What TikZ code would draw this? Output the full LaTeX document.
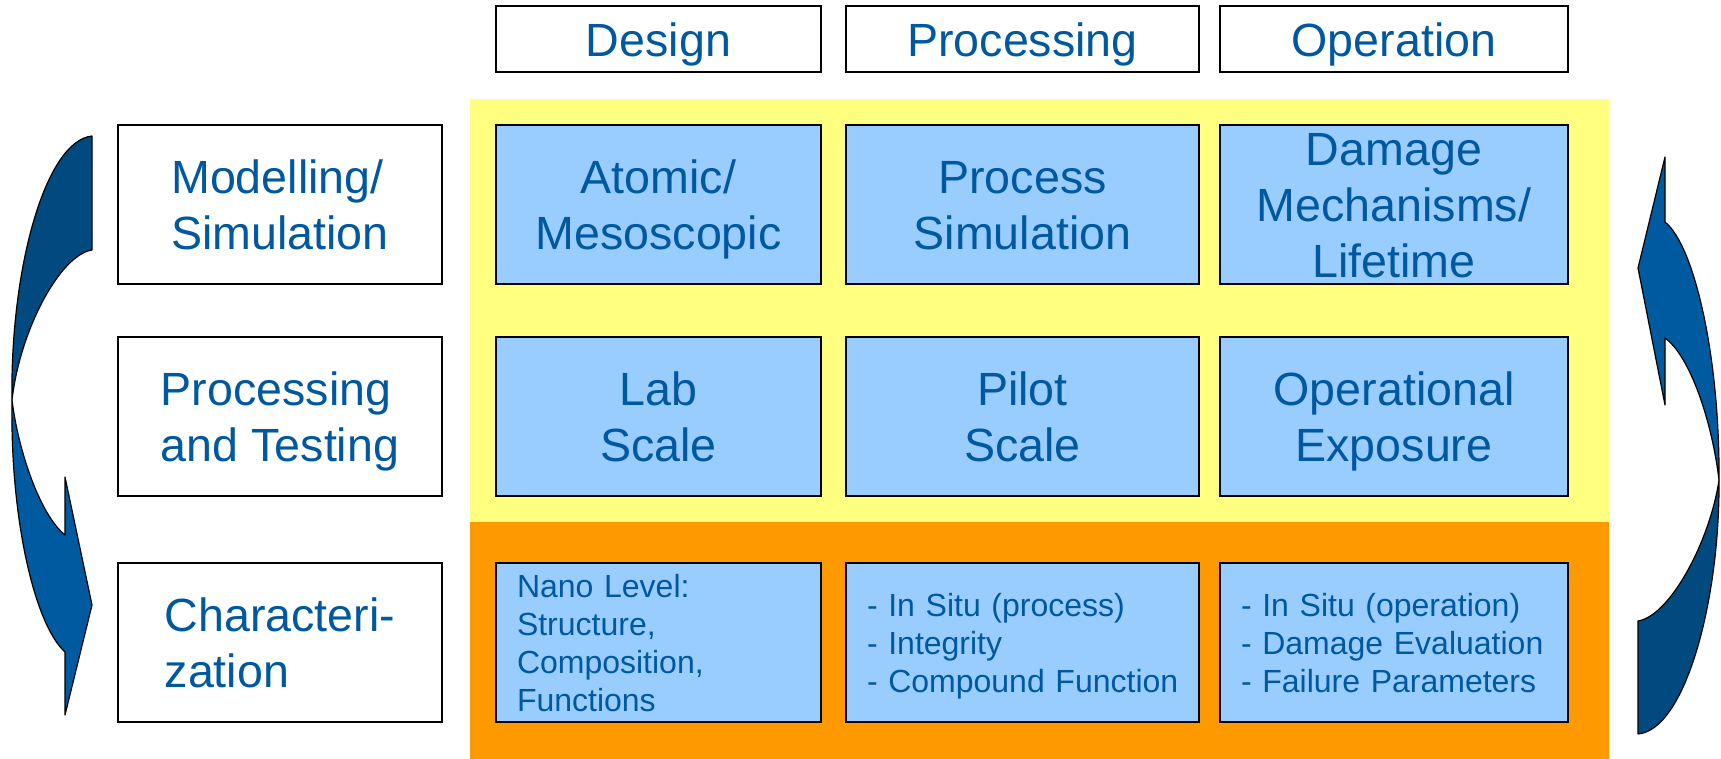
\documentclass[tikz,border=0pt]{standalone}
\usepackage{fontspec}
\setmainfont{Liberation Sans}
\definecolor{txtblue}{RGB}{0,88,160}
\definecolor{cellblue}{RGB}{153,204,255}
\definecolor{bandyellow}{RGB}{255,255,128}
\definecolor{bandorange}{RGB}{255,153,0}
\definecolor{arrdark}{RGB}{0,74,127}
\definecolor{arrlight}{RGB}{0,90,160}
\newcommand\vstr{\rule[-0.225em]{0pt}{1.185em}}
\begin{document}
\begin{tikzpicture}[x=0.5pt,y=-0.5pt,
  bigtxt/.style={font=\fontsize{23.3}{28}\selectfont, text=txtblue},
  smalltxt/.style={font=\fontsize{16}{19}\selectfont, text=txtblue},
  frame/.style={draw=black, line width=0.9pt, inner sep=0pt},
  hbox/.style={frame, fill=white, bigtxt, minimum height=33pt},
  lbox/.style={frame, fill=white, bigtxt, align=left, minimum width=161.75pt, minimum height=79.5pt},
  cbox/.style={frame, fill=cellblue, bigtxt, align=center, minimum height=79.5pt},
  sbox/.style={frame, fill=cellblue, smalltxt, align=left, minimum height=79.5pt, inner xsep=10.5pt},
  arrowpart/.style={draw=black, line width=0.6pt, line join=round}
]
\useasboundingbox (0,0) rectangle (1721,759);
\fill[bandyellow] (470,99) rectangle (1609,522.5);
\fill[bandorange] (470,522.5) rectangle (1609,759);

% header
\node[hbox, minimum width=162.5pt] (hd) at (658.5,39) {\vstr Design};
\node[hbox, minimum width=176.5pt] (hp) at (1022.5,39) {\vstr Processing};
\node[hbox, minimum width=174pt] (ho) at (1394,39) {\vstr Operation};

% left column
\node[lbox] (lm) at (280,204.5) {\vstr Modelling/\\\vstr Simulation};
\node[lbox] (lp) at (280,416.5) {\vstr Processing\\\vstr and Testing};
\node[lbox] (lc) at (280,642.5) {\vstr Characteri-\\\vstr zation};

% row 1
\node[cbox, minimum width=162.5pt] (c11) at (658.5,204.5) {\vstr Atomic/\\\vstr Mesoscopic};
\node[cbox, minimum width=176.5pt] (c12) at (1022.5,204.5) {\vstr Process\\\vstr Simulation};
\node[cbox, minimum width=174pt, inner ysep=-2.5pt] (c13) at (1394,204.5) {\vstr Damage\\\vstr Mechanisms/\\\vstr Lifetime};

% row 2
\node[cbox, minimum width=162.5pt] (c21) at (658.5,416.5) {\vstr Lab\\\vstr Scale};
\node[cbox, minimum width=176.5pt] (c22) at (1022.5,416.5) {\vstr Pilot\\\vstr Scale};
\node[cbox, minimum width=174pt] (c23) at (1394,416.5) {\vstr Operational\\\vstr Exposure};

% row 3
\node[sbox, text width=141.5pt] (c31) at (658.5,642.5)
  {\mbox{\vstr Nano Level:}\\\mbox{\vstr Structure,}\\\mbox{\vstr Composition,}\\\mbox{\vstr Functions}};
\node[sbox, text width=155.5pt] (c32) at (1022.5,642.5)
  {\mbox{\vstr - In Situ (process)}\\\mbox{\vstr - Integrity}\\\mbox{\vstr - Compound Function}};
\node[sbox, text width=153pt] (c33) at (1394,642.5)
  {\mbox{\vstr - In Situ (operation)}\\\mbox{\vstr - Damage Evaluation}\\\mbox{\vstr - Failure Parameters}};

% left curved arrow
\coordinate (lx) at (12,400);
\filldraw[arrowpart, fill=arrdark] (92,136) .. controls (45,141) and (10,270) .. (lx)
  .. controls (20,330) and (60,255) .. (92,250) -- cycle;
\filldraw[arrowpart, fill=arrlight] (lx) .. controls (10,520) and (35,625) .. (65,652)
  -- (65,715) -- (92,605) -- (65,477) -- (65,535)
  .. controls (40,515) and (18,450) .. (lx) -- cycle;

% right curved arrow
\coordinate (rx) at (1719,480);
\filldraw[arrowpart, fill=arrdark] (1638,734) .. controls (1685,730) and (1720,601) .. (rx)
  .. controls (1710,541) and (1670,616) .. (1638,621) -- cycle;
\filldraw[arrowpart, fill=arrlight] (rx) .. controls (1720,360) and (1695,246) .. (1665,222)
  -- (1665,157) -- (1638,268) -- (1665,405) -- (1665,338)
  .. controls (1690,356) and (1712,421) .. (rx) -- cycle;
\end{tikzpicture}
\end{document}
